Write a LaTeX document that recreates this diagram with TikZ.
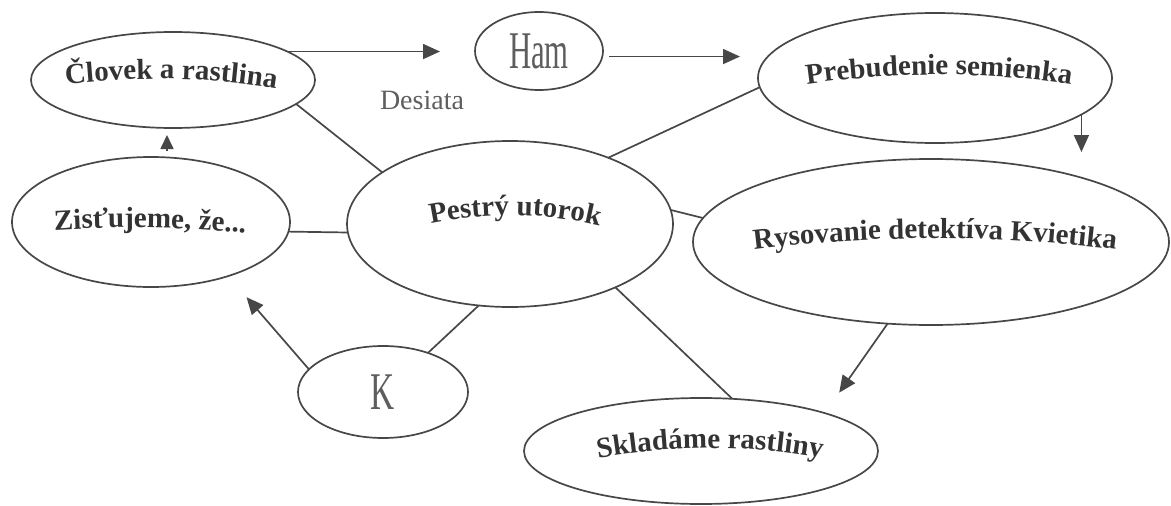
\documentclass[tikz,border=0pt]{standalone}
\usepackage{fontspec}
\setmainfont{Liberation Serif}
\usetikzlibrary{arrows.meta,decorations.text,calc,shapes.geometric}
\definecolor{ln}{HTML}{474747}
\definecolor{tx}{HTML}{333333}
\definecolor{lt}{HTML}{5E5E5E}
\begin{document}
\begin{tikzpicture}[x=1pt,y=-1pt,
  ell/.style={ellipse, draw=ln, line width=1.7pt, inner sep=0pt, outer sep=0pt},
  link/.style={draw=ln, line width=1.7pt},
  arr/.style={link, -{Triangle[length=17pt,width=15pt]}},
  smallarr/.style={link, -{Triangle[length=14pt,width=13pt]}},
  arcs/.style={decorate, decoration={text along path, text align=center,
     text={|\fontsize{29}{29}\selectfont\bfseries\color{tx}|#1}}},
  thin/.style={font=\fontsize{53}{53}\selectfont, text=lt}
]
\useasboundingbox (0,0) rectangle (1171,506);

% ellipses
\node[ell, minimum width=284pt, minimum height=96pt] (clovek) at (173,80) {};
\node[ell, thin, minimum width=128pt, minimum height=78pt] (ham) at (539,51) {\scalebox{0.58}[1]{Ham}};
\node[ell, minimum width=354pt, minimum height=130pt] (preb) at (935,78) {};
\node[ell, minimum width=278pt, minimum height=130pt] (zis) at (151,222) {};
\node[ell, minimum width=326pt, minimum height=166pt] (pestry) at (510,224) {};
\node[ell, minimum width=476pt, minimum height=166pt] (rys) at (931,242) {};
\node[ell, thin, minimum width=170pt, minimum height=92pt] (k) at (383,392) {\scalebox{0.63}[1]{K}};
\node[ell, minimum width=354pt, minimum height=106pt] (skl) at (701,451) {};
\node[font=\fontsize{28}{28}\selectfont, text=lt, anchor=base, inner sep=0pt] (desiata) at (422,109) {Desiata};

% curved texts
\path[arcs={Človek a rastlina}] (50,86) .. controls (130,76) and (210,76) .. (292,91);
\path[arcs={Zisťujeme, že...}] (40,231) .. controls (115,226) and (185,226) .. (260,235);
\path[arcs={Pestrý utorok}] (415,227) .. controls (480,211) and (550,211) .. (615,230);
\path[arcs={Prebudenie semienka}] (795,86) .. controls (895,71) and (985,71) .. (1083,86);
\path[arcs={Rysovanie detektíva Kvietika}] (735,252) .. controls (865,234) and (1005,234) .. (1135,252);
\path[arcs={Skladáme rastliny}] (585,461) .. controls (668,444) and (752,444) .. (835,461);

% plain links
\draw[link] (clovek.-11) -- (pestry.158);
\draw[link] (zis.-4) -- (pestry.-177);
\draw[link] (pestry.34) -- (preb.-177);
\draw[link] (pestry.5) -- (rys.174);
\draw[link] (pestry.-31) -- (skl.59);
\draw[link] (pestry.-111) -- (k.41);

% arrows
\draw[arr, shorten >=35pt] (clovek.14) -- (clovek.14 -| ham.west);
\draw[arr, shorten <=7pt, shorten >=18pt] (ham.-5) -- (ham.-5 -| preb.west);
\draw[arr, shorten >=7pt] (preb.-14) -- (preb.-14 |- rys.north);
\draw[arr, shorten >=25pt] (rys.-118) -- (skl.17);
\draw[arr, shorten >=28pt] (k.163) -- (zis.-35);
\draw[smallarr, shorten <=6pt, shorten >=7pt] ($(zis.north)+(16,0)$) -- ($(zis.north |- clovek.south)+(16,0)$);
\end{tikzpicture}
\end{document}
